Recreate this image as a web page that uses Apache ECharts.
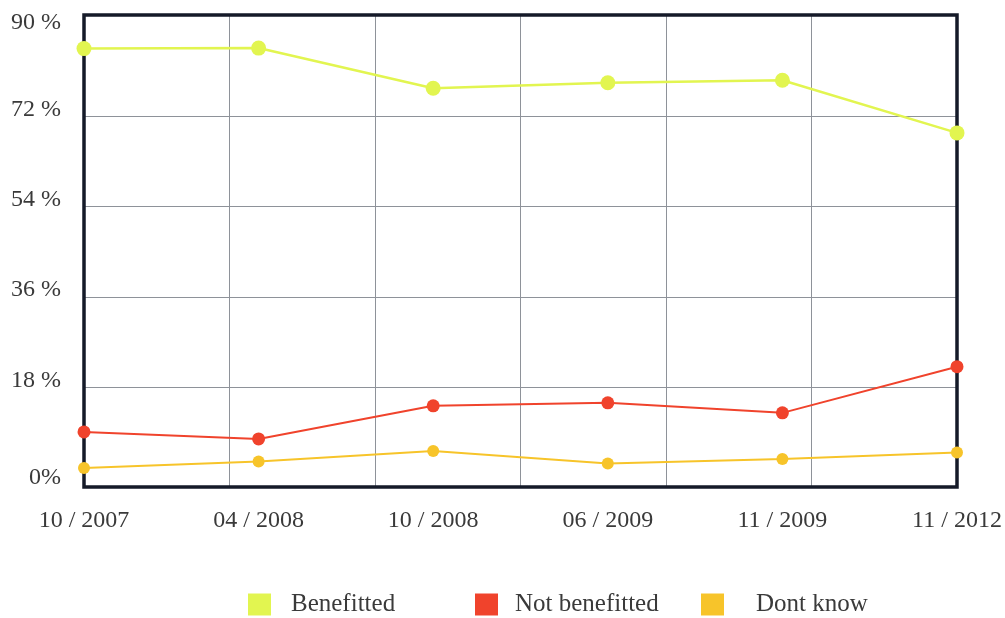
<!DOCTYPE html>
<html>
<head>
<meta charset="utf-8">
<script src="https://cdn.jsdelivr.net/npm/echarts@6/dist/echarts.min.js"></script>
<style>
html,body{margin:0;padding:0;background:#fff;}
#chart{width:1005px;height:618px;}
</style>
</head>
<body>
<div id="chart"></div>
<script>
const categories = ['10 / 2007', '04 / 2008', '10 / 2008', '06 / 2009', '11 / 2009', '11 / 2012'];
const benefitted = [85.5, 85.6, 77.6, 78.7, 79.2, 68.7];
const notBenefitted = [9.1, 7.7, 14.3, 14.9, 12.9, 22.1];
const dontKnow = [1.9, 3.2, 5.3, 2.8, 3.7, 5.0];
const yTicks = [0, 18, 36, 54, 72, 90];
const seriesNames = ['Benefitted', 'Not benefitted', 'Dont know'];

const FONT = 'Liberation Serif';
const TXT = '#3a3a3a';
const GRIDC = '#8e9299';
const colors = ['#e2f550', '#f0432c', '#f7c42a'];

const chart = echarts.init(document.getElementById('chart'), null, {renderer: 'canvas'});

function legendFor(i, left, gap) {
  return {
    data: [seriesNames[i]],
    left: left, top: 592, padding: 0,
    itemWidth: 23, itemHeight: 22,
    icon: 'rect',
    selectedMode: false,
    textStyle: {fontFamily: FONT, fontSize: 25, color: TXT, padding: [4, 0, 0, gap]}
  };
}

const yMin = yTicks[0], yMax = yTicks[yTicks.length - 1];

chart.setOption({
  animation: false,
  backgroundColor: '#fff',
  grid: [
    {left: 84, right: 48, top: 15, bottom: 131, show: true, borderColor: '#151a28', borderWidth: 3.5, backgroundColor: 'transparent', z: 1},
    {left: 84, right: 48, top: 26, bottom: 140.4}
  ],
  legend: [legendFor(0, 248, 15), legendFor(1, 475, 12), legendFor(2, 701, 27)],
  xAxis: [
    {gridIndex: 0, type: 'value', min: 0, max: 6, interval: 1,
     axisLine: {show: false}, axisTick: {show: false}, axisLabel: {show: false},
     splitLine: {show: true, lineStyle: {width: 1, color: ['transparent', GRIDC, GRIDC, GRIDC, GRIDC, GRIDC, 'transparent']}}},
    {gridIndex: 1, type: 'category', boundaryGap: false, data: categories,
     axisLine: {show: false}, axisTick: {show: false},
     axisLabel: {margin: 31, fontFamily: FONT, fontSize: 24, color: TXT, interval: 0},
     splitLine: {show: false}}
  ],
  yAxis: [
    {gridIndex: 0, type: 'value', min: 0, max: 1, axisLine: {show: false}, axisTick: {show: false}, axisLabel: {show: false}, splitLine: {show: false}},
    {gridIndex: 1, type: 'value', min: yMin, max: yMax, interval: 18,
     axisLine: {show: false}, axisTick: {show: false},
     axisLabel: {
       margin: 23, fontFamily: FONT, fontSize: 24, color: TXT,
       formatter: function (v) {
         if (v === 0) return '{z|0%}';
         if (v === yMax) return '{b|' + v + ' %}';
         return '{a|' + v + ' %}';
       },
       rich: {
         z: {fontFamily: FONT, fontSize: 24, color: TXT},
         a: {fontFamily: FONT, fontSize: 24, color: TXT, padding: [0, 0, 14, 0]},
         b: {fontFamily: FONT, fontSize: 24, color: TXT, padding: [0, 0, 6, 0]}
       }
     },
     splitLine: {show: true, lineStyle: {width: 1, color: ['transparent', GRIDC, GRIDC, GRIDC, GRIDC, 'transparent']}}}
  ],
  series: [
    {name: seriesNames[0], type: 'line', xAxisIndex: 1, yAxisIndex: 1, data: benefitted,
     symbol: 'circle', symbolSize: 15, color: colors[0], lineStyle: {width: 2.5, color: colors[0]}, z: 5},
    {name: seriesNames[1], type: 'line', xAxisIndex: 1, yAxisIndex: 1, data: notBenefitted,
     symbol: 'circle', symbolSize: 13, color: colors[1], lineStyle: {width: 2, color: colors[1]}, z: 5},
    {name: seriesNames[2], type: 'line', xAxisIndex: 1, yAxisIndex: 1, data: dontKnow,
     symbol: 'circle', symbolSize: 12, color: colors[2], lineStyle: {width: 2, color: colors[2]}, z: 5}
  ]
});
</script>
</body>
</html>
